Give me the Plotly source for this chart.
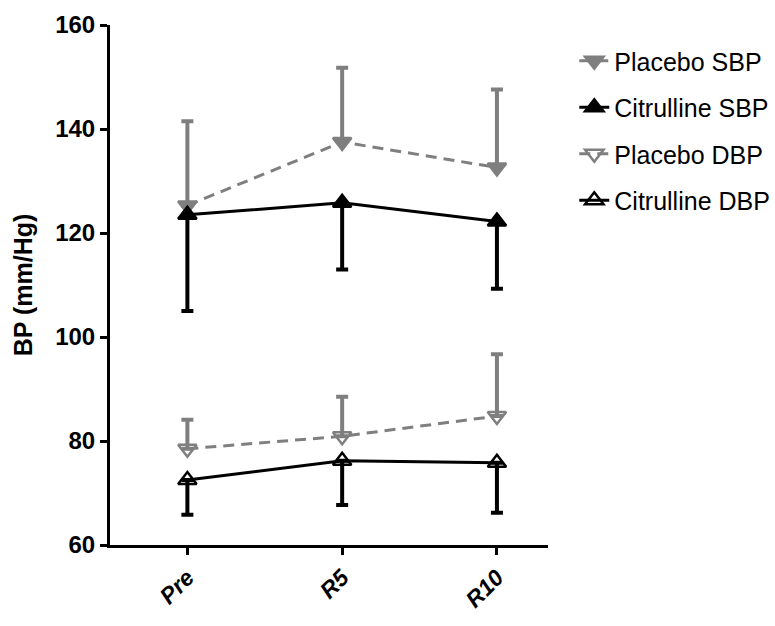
import plotly.graph_objects as go

categories = ["Pre", "R5", "R10"]

placebo_sbp = [125.3, 137.5, 132.6]
placebo_sbp_err_up = [16.2, 14.3, 15.0]

citrulline_sbp = [123.5, 125.8, 122.2]
citrulline_sbp_err_down = [18.5, 12.8, 12.9]

placebo_dbp = [78.5, 80.9, 84.8]
placebo_dbp_err_up = [5.6, 7.6, 11.9]

citrulline_dbp = [72.5, 76.2, 75.8]
citrulline_dbp_err_down = [6.7, 8.5, 9.6]

y_ticks = [60, 80, 100, 120, 140, 160]

GRAY = "#7f7f7f"
BLACK = "#000000"
FONT = "Liberation Sans, Arial, sans-serif"

fig = go.Figure()

def add(name, y, up, down, color, symbol, dash, group):
    fig.add_trace(go.Scatter(
        x=categories, y=y, name=name, mode="lines+markers",
        legendgroup=group,
        line=dict(color=color, width=3, dash=dash),
        marker=dict(symbol=symbol, size=16, color=color,
                    line=dict(color=color, width=2.5)),
        error_y=dict(type="data", symmetric=False,
                     array=up, arrayminus=down,
                     color=color, thickness=4, width=6),
    ))

zeros = [0, 0, 0]
add("Placebo SBP", placebo_sbp, placebo_sbp_err_up, zeros, GRAY, "triangle-down", "11px,7px", "g1")
add("Citrulline SBP", citrulline_sbp, zeros, citrulline_sbp_err_down, BLACK, "triangle-up", "solid", "g2")
add("Placebo DBP", placebo_dbp, placebo_dbp_err_up, zeros, GRAY, "triangle-down-open", "11px,7px", "g3")
add("Citrulline DBP", citrulline_dbp, zeros, citrulline_dbp_err_down, BLACK, "triangle-up-open", "solid", "g4")

fig.update_layout(
    width=775, height=626,
    margin=dict(l=110, r=227, t=25, b=81, autoexpand=False),
    paper_bgcolor="white", plot_bgcolor="white",
    font=dict(family=FONT, color="black"),
    showlegend=True,
    legend=dict(x=1.06, y=0.975, xanchor="left", yanchor="top",
                font=dict(size=25, family=FONT, color="black"),
                tracegroupgap=11, bgcolor="rgba(0,0,0,0)"),
    xaxis=dict(
        type="category", range=[-0.5, 2.33], automargin=False,
        showline=True, linecolor="black", linewidth=3,
        ticks="outside", ticklen=7, tickwidth=2.5, tickcolor="black",
        tickangle=-45, showgrid=False, zeroline=False,
        tickfont=dict(size=23, family=FONT, weight="bold", style="italic"),
    ),
    yaxis=dict(
        range=[60, 160], tickvals=y_ticks, automargin=False,
        showline=True, linecolor="black", linewidth=3,
        ticks="outside", ticklen=7, tickwidth=2.5, tickcolor="black",
        showgrid=False, zeroline=False,
        tickfont=dict(size=24, family=FONT, weight="bold"),
        title=dict(text="BP (mm/Hg)", standoff=16,
                   font=dict(size=25, family=FONT, weight="bold")),
    ),
)

fig.write_html("out.html")
